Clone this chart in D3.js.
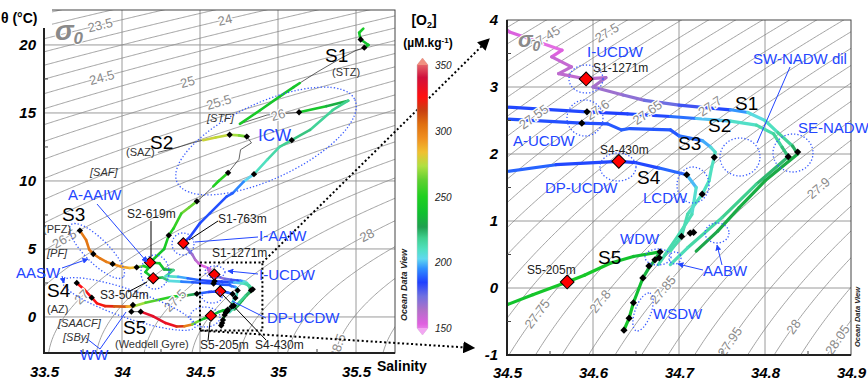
<!DOCTYPE html>
<html>
<head>
<meta charset="utf-8">
<script src="https://cdn.jsdelivr.net/npm/d3@7"></script>
<style>
  body { margin: 0; background: #fff; }
  svg { font-family: "Liberation Sans", Arial, sans-serif; }
</style>
</head>
<body>
<svg id="chart" width="868" height="387"></svg>
<script>
// ---- data : [salinity, theta, O2] along each station profile (O2 null = no oxygen data)
var st1 = [
  [35.547,21.2,245],[35.52,20.9,245],[35.53,20.4,240],[35.58,20.0,240],[35.553,19.8,240],
  [35.50,19.6,null],[35.40,19.0,240],[35.25,18.0,null],[35.14,17.2,240],[35.10,16.9,245],
  [35.01,16.2,240],[34.885,15.2,245],[34.756,14.2,245],[34.93,14.85,null],[35.135,15.05,245],
  [35.31,15.5,240],[35.45,15.9,225],[35.35,15.2,215],[35.205,13.75,222],[35.088,13.0,222],
  [35.01,12.5,218],[34.93,11.55,214],[34.846,10.5,210],[34.78,9.95,200],[34.71,9.1,194],
  [34.67,8.85,190],[34.564,7.64,190],[34.5,6.9,190],[34.436,5.9,188],[34.393,5.42,185],
  [34.42,5.0,180],[34.45,4.6,172],[34.47,4.2,168],[34.49,3.95,162],[34.503,3.82,160],
  [34.53,3.70,158],[34.564,3.55,155],[34.552,3.45,162],[34.575,3.30,165],[34.56,3.20,165],
  [34.592,3.12,165],[34.615,3.14,168],[34.60,3.00,170],[34.635,2.88,172],[34.66,2.80,175],
  [34.70,2.73,182],[34.74,2.68,186],[34.76,2.66,192],[34.78,2.62,205],[34.80,2.50,210],
  [34.815,2.32,214],[34.832,2.12,222],[34.838,2.00,230],[34.80,1.60,232],[34.77,1.20,232],
  [34.745,0.85,230],[34.72,0.55,230]
];
var st2 = [
  [34.23,12.1,276],[34.30,12.3,null],[34.38,12.55,276],[34.45,12.8,null],[34.52,13.0,276],
  [34.60,13.2,276],[34.69,13.4,273],[34.75,13.35,268],[34.80,13.26,262],[34.83,12.8,null],
  [34.76,12.3,null],[34.75,11.6,null],[34.68,10.6,255],[34.62,10.0,250],[34.585,9.6,250],
  [34.53,9.0,null],[34.48,8.5,255],[34.43,8.05,270],[34.38,7.6,258],[34.33,6.5,250],
  [34.30,6.0,248],[34.27,5.0,245],[34.18,4.0,240],[34.24,3.95,245],[34.27,3.5,238],
  [34.33,3.45,225],[34.28,3.0,215],[34.36,2.95,205],[34.42,2.85,196],[34.50,2.70,190],
  [34.593,2.63,188],[34.64,2.60,188],[34.69,2.56,190],[34.72,2.53,198],[34.76,2.49,208],
  [34.79,2.43,214],[34.81,2.30,216],[34.82,2.10,220],[34.827,1.96,226],[34.79,1.55,222],
  [34.75,1.05,218],[34.71,0.6,215],[34.69,0.35,212]
];
var st3 = [
  [33.73,6.35,298],[33.77,5.66,300],[33.79,4.95,300],[33.816,4.63,300],[33.86,4.3,300],
  [33.90,4.05,298],[33.94,3.9,296],[34.0,3.68,290],[34.05,3.6,286],[34.094,3.65,280],
  [34.14,3.75,250],[34.17,3.6,245],[34.15,3.3,240],[34.2,2.85,240],[34.26,2.9,230],
  [34.30,2.65,215],[34.38,2.6,200],[34.45,2.55,192],[34.5,2.52,190],[34.587,2.46,190],
  [34.617,2.45,190],[34.633,2.36,192],[34.643,2.38,192],[34.69,2.36,190],[34.70,2.27,192],
  [34.727,2.20,196],[34.737,2.1,205],[34.742,2.03,212],[34.741,1.95,212],[34.738,1.80,212],
  [34.735,1.60,212],[34.727,1.40,212],[34.71,1.1,214],[34.703,0.77,215],[34.69,0.55,215]
];
var st4 = [
  [33.71,2.5,320],[33.76,2.0,325],[33.806,1.42,325],[33.84,1.0,322],[33.89,0.8,320],
  [33.95,0.78,315],[34.03,0.76,300],[34.08,0.8,275],[34.15,1.05,265],[34.25,1.3,255],
  [34.33,1.5,250],[34.42,1.6,240],[34.48,1.7,215],[34.5,1.74,195],[34.557,1.84,190],
  [34.63,1.89,188],[34.65,1.87,188],[34.677,1.79,190],[34.709,1.69,196],[34.72,1.5,208],
  [34.715,1.1,212],[34.70,0.8,215],[34.684,0.5,215],[34.676,0.35,215]
];
var st5 = [
  [34.07,0.88,null],[34.06,0.39,null],[34.12,0.39,330],[34.2,0.05,330],[34.28,-0.45,330],
  [34.35,-0.7,325],[34.40,-0.68,305],[34.45,-0.55,290],[34.5,-0.25,240],[34.53,-0.1,240],
  [34.57,0.09,245],[34.59,0.19,245],[34.62,0.37,242],[34.647,0.47,240],[34.678,0.54,235],
  [34.672,0.42,230],[34.665,0.3,232],[34.658,0.15,235],[34.647,-0.22,240],[34.642,-0.45,242],
  [34.636,-0.63,245]
];
var stations = [st1, st2, st3, st4, st5];

// sampled depths (black diamonds) and labelled depths (red diamonds)
var samplePts = [
  [35.53,20.4],[35.553,19.8],[35.135,15.05],[35.088,13.0],[34.846,10.5],
  [34.69,13.4],[34.80,13.26],[34.68,10.6],[34.48,8.5],[34.30,6.0],
  [33.73,6.35],[33.816,4.63],[33.94,3.9],[34.094,3.65],
  [33.71,2.5],[33.806,1.42],[34.48,1.7],
  [34.07,0.88],[34.06,0.39],[34.12,0.39],
  [34.593,2.63],[34.587,2.46],[34.709,1.69],[34.741,1.95],[34.827,1.96],[34.838,2.03],
  [34.727,1.40],[34.703,0.77],[34.677,0.45],[34.713,0.82],[34.717,0.83],
  [34.678,0.54],[34.672,0.42],[34.665,0.33],[34.658,0.15],[34.647,-0.22],[34.642,-0.45],[34.636,-0.63]
];
var keyPts = [[34.393,5.42],[34.592,3.12],[34.18,4.0],[34.2,2.85],[34.63,1.89],[34.57,0.09]];

// axes ticks
var sTicksL = [33.5, 34, 34.5, 35, 35.5];
var tTicksL = [0, 5, 10, 15, 20];
var sTicksR = [34.5, 34.6, 34.7, 34.8, 34.9];
var tTicksR = [-1, 0, 1, 2, 3, 4];
var o2Ticks = [150, 200, 250, 300, 350];

// O2 palette (Ocean Data View like)
var o2Stops  = [150,158,168,178,188,198,205,212,220,228,238,250,262,272,282,292,302,312,322,336,350];
var o2Colors = ["#f2a6f2","#e060e0","#b070c8","#7070e0","#2040ff","#3090ff","#60d8f0","#50e0c0",
                "#40d090","#20a050","#10c030","#20d020","#60d030","#b0e040","#f0c030","#f09020",
                "#e07010","#c84010","#ff1010","#d0103c","#f09080"];

// isopycnal label positions (salinity where label sits)
var isoLabelsL = [[23.5,33.86],[24,34.66],[24.5,33.87],[25,34.42],[25.5,34.62],[26,35.0],
                  [26.5,33.63],[27,33.74],[27.5,34.34],[28,35.57],[28.5,35.38]];
var isoLabelsR = [[27.45,34.544],[27.5,34.616],[27.55,34.531],[27.6,34.605],[27.65,34.663],
                  [27.7,34.736],[27.75,34.535],[27.8,34.608],[27.85,34.681],[27.9,34.862],
                  [27.95,34.759],[28,34.833],[28.05,34.884]];

// ---- helpers
function sigma0(S, T) {
  var rw = 999.842594 + 6.793952e-2*T - 9.095290e-3*T*T + 1.001685e-4*T*T*T
         - 1.120083e-6*T*T*T*T + 6.536332e-9*T*T*T*T*T;
  var A = 0.824493 - 4.0899e-3*T + 7.6438e-5*T*T - 8.2467e-7*T*T*T + 5.3875e-9*T*T*T*T;
  var B = -5.72466e-3 + 1.0227e-4*T - 1.6546e-6*T*T;
  return rw + A*S + B*Math.pow(S, 1.5) + 4.8314e-4*S*S - 1000;
}
function findT(S, lev) {
  var lo = -3, hi = 32;
  if (sigma0(S, lo) < lev || sigma0(S, hi) > lev) return null;
  for (var k = 0; k < 40; k++) {
    var m = (lo + hi) / 2;
    if (sigma0(S, m) > lev) lo = m; else hi = m;
  }
  return (lo + hi) / 2;
}
var o2Color = d3.scaleLinear().domain(o2Stops).range(o2Colors).clamp(true);

var svg = d3.select("#chart");
var defs = svg.append("defs");
defs.append("clipPath").attr("id", "clipL").append("rect").attr("x", 44).attr("y", 10).attr("width", 351).attr("height", 343);
defs.append("clipPath").attr("id", "clipR").append("rect").attr("x", 507).attr("y", 20).attr("width", 344).attr("height", 335);
[["arrBlue", "#2346ff"], ["arrBlack", "#000"]].forEach(function (a) {
  defs.append("marker").attr("id", a[0]).attr("viewBox", "0 0 10 10").attr("refX", 9).attr("refY", 5)
    .attr("markerWidth", 6).attr("markerHeight", 6).attr("orient", "auto-start-reverse")
    .append("path").attr("d", "M0,0 L10,5 L0,10 z").attr("fill", a[1]);
});

var xL = d3.scaleLinear().domain([33.5, 35.75]).range([44, 395]);
var yL = d3.scaleLinear().domain([-2.65, 22.57]).range([353, 10]);
var xR = d3.scaleLinear().domain([34.5, 34.9]).range([507, 851]);
var yR = d3.scaleLinear().domain([-1, 4]).range([355, 20]);

var BLUE = "#2346ff";

function drawPanel(p) {
  var x = p.x, y = p.y;
  var g = svg.append("g");
  var sx = x.domain(), ty = y.domain();
  // grid
  g.selectAll(".vg").data(p.vgrid).enter().append("line")
    .attr("x1", function (d) { return x(d); }).attr("x2", function (d) { return x(d); })
    .attr("y1", y(ty[0])).attr("y2", y(ty[1])).attr("stroke", "#9a9a9a").attr("stroke-width", 1);
  g.selectAll(".hg").data(p.hgrid).enter().append("line")
    .attr("y1", function (d) { return y(d); }).attr("y2", function (d) { return y(d); })
    .attr("x1", x(sx[0])).attr("x2", x(sx[1])).attr("stroke", "#9a9a9a").attr("stroke-width", 1);

  var inner = g.append("g").attr("clip-path", "url(#" + p.clip + ")");
  // isopycnals
  var line = d3.line().defined(function (d) { return d[1] !== null; })
    .x(function (d) { return x(d[0]); }).y(function (d) { return y(d[1]); });
  p.levels.forEach(function (lev) {
    var pts = d3.range(0, 301).map(function (i) {
      var S = sx[0] - 0.05 + (sx[1] - sx[0] + 0.1) * i / 300;
      return [S, findT(S, lev)];
    });
    inner.append("path").attr("d", line(pts)).attr("fill", "none")
      .attr("stroke", "#8a8a8a").attr("stroke-width", 0.8);
  });
  // profiles
  stations.forEach(function (st) {
    inner.append("path").attr("d", d3.line().x(function (d) { return x(d[0]); }).y(function (d) { return y(d[1]); })(st))
      .attr("fill", "none").attr("stroke", "#222").attr("stroke-width", 0.7);
    for (var i = 0; i < st.length - 1; i++) {
      var a = st[i], b = st[i + 1];
      if (a[2] === null || b[2] === null) continue;
      inner.append("line").attr("x1", x(a[0])).attr("y1", y(a[1])).attr("x2", x(b[0])).attr("y2", y(b[1]))
        .attr("stroke", o2Color((a[2] + b[2]) / 2)).attr("stroke-width", p.lw).attr("stroke-linecap", "round");
    }
  });
  // isopycnal labels
  p.isoLabels.forEach(function (l) {
    var lev = l[0], S = l[1], dS = (sx[1] - sx[0]) * 0.004;
    var T = findT(S, lev), T1 = findT(S - dS, lev), T2 = findT(S + dS, lev);
    if (T === null || T1 === null || T2 === null) return;
    var ang = Math.atan2(y(T2) - y(T1), x(S + dS) - x(S - dS)) * 180 / Math.PI;
    inner.append("text").attr("transform", "translate(" + x(S) + "," + y(T) + ") rotate(" + ang + ")")
      .attr("text-anchor", "middle").attr("dy", "0.36em")
      .attr("font-size", p.isoSize).attr("fill", "#8a8a8a")
      .attr("stroke", "#fff").attr("stroke-width", 2.5).attr("paint-order", "stroke")
      .text(String(+lev.toFixed(2)));
  });
  inner.selectAll(".smp").data(samplePts).enter().append("path")
    .attr("d", d3.symbol(d3.symbolSquare, p.small))
    .attr("transform", function (d) { return "translate(" + x(d[0]) + "," + y(d[1]) + ") rotate(45)"; })
    .attr("fill", "#000");
  inner.selectAll(".key").data(keyPts).enter().append("path")
    .attr("d", d3.symbol(d3.symbolSquare, p.big))
    .attr("transform", function (d) { return "translate(" + x(d[0]) + "," + y(d[1]) + ") rotate(45)"; })
    .attr("fill", "#ff0000").attr("stroke", "#000").attr("stroke-width", 1);

  // frame
  g.append("rect").attr("x", x(sx[0])).attr("y", y(ty[1])).attr("width", x(sx[1]) - x(sx[0]))
    .attr("height", y(ty[0]) - y(ty[1])).attr("fill", "none").attr("stroke", "#444").attr("stroke-width", 1);
  g.append("path").attr("d", "M" + x(sx[0]) + "," + y(ty[1]) + "V" + y(ty[0]) + "H" + x(sx[1]))
    .attr("fill", "none").attr("stroke", "#222").attr("stroke-width", 2);

  // axes
  var ax = g.append("g").attr("transform", "translate(0," + y(ty[0]) + ")")
    .call(d3.axisBottom(x).tickValues(p.sTicks).tickSize(0).tickPadding(p.xPad).tickFormat(function (d) { return String(d); }));
  var ay = g.append("g").attr("transform", "translate(" + x(sx[0]) + ",0)")
    .call(d3.axisLeft(y).tickValues(p.tTicks).tickSize(0).tickPadding(p.yPad).tickFormat(function (d) { return String(d); }));
  [ax, ay].forEach(function (a) {
    a.select(".domain").remove();
    a.selectAll("text").attr("font-family", "Liberation Sans, Arial, sans-serif").attr("font-size", 15)
      .attr("font-weight", "bold").attr("font-style", "italic").attr("fill", "#000");
  });
  // minor ticks
  g.selectAll(".mx").data(p.minorS).enter().append("line")
    .attr("x1", function (d) { return x(d); }).attr("x2", function (d) { return x(d); })
    .attr("y1", y(ty[0])).attr("y2", y(ty[0]) - 4).attr("stroke", "#444");
  g.selectAll(".my").data(p.minorT).enter().append("line")
    .attr("y1", function (d) { return y(d); }).attr("y2", function (d) { return y(d); })
    .attr("x1", x(sx[0])).attr("x2", x(sx[0]) + 4).attr("stroke", "#444");
  return g;
}

drawPanel({ x: xL, y: yL, clip: "clipL", vgrid: [34, 34.5, 35, 35.5], hgrid: [0, 5, 10, 15, 20],
  levels: d3.range(22.5, 29.01, 0.25), isoLabels: isoLabelsL, isoSize: 13, lw: 2.6, small: 20, big: 62,
  sTicks: sTicksL, tTicks: tTicksL, xPad: 13, yPad: 8,
  minorS: [33.75, 34.25, 34.75, 35.25], minorT: [2.5, 7.5, 12.5, 17.5] });
drawPanel({ x: xR, y: yR, clip: "clipR", vgrid: [34.6, 34.7, 34.8], hgrid: [0, 1, 2, 3],
  levels: d3.range(27.4, 28.11, 0.025), isoLabels: isoLabelsR, isoSize: 13, lw: 3.2, small: 26, big: 95,
  sTicks: sTicksR, tTicks: tTicksR, xPad: 12, yPad: 9,
  minorS: [34.55, 34.65, 34.75, 34.85], minorT: [-0.5, 0.5, 1.5, 2.5, 3.5] });

// ---- zoom box + connectors on the left panel
svg.append("rect").attr("x", xL(34.5)).attr("y", yL(4)).attr("width", xL(34.9) - xL(34.5))
  .attr("height", yL(-1) - yL(4)).attr("fill", "none").attr("stroke", "#000")
  .attr("stroke-width", 2).attr("stroke-dasharray", "2,2.5");
svg.append("line").attr("x1", xL(34.9)).attr("y1", yL(4)).attr("x2", 489).attr("y2", 39)
  .attr("stroke", "#000").attr("stroke-width", 2).attr("stroke-dasharray", "2,2.5").attr("marker-end", "url(#arrBlack)");
svg.append("line").attr("x1", xL(34.5)).attr("y1", yL(-1)).attr("x2", 474).attr("y2", 348)
  .attr("stroke", "#000").attr("stroke-width", 2).attr("stroke-dasharray", "2,2.5").attr("marker-end", "url(#arrBlack)");

// ---- water-mass ellipses
var ellipses = [
  [266,141,98,38,-25],[183,244,11,11,0],[155,272,14,17,0],[97,251,37,12,45],[129,304,70,14,19],
  [205,317,15,10,0],[215,272,10,6,0],[212,297,10,6,0],
  [586,79,17,14,0],[585,118,18,18,0],[618,167,18,14,0],[693,185,16,18,0],[740,157,20,19,0],
  [793,153,20,19,0],[658,257,13,8,0],[717,233,12,10,0],[675,258,6,6,0],[643,312,20,8,-70]
];
svg.selectAll(".ell").data(ellipses).enter().append("ellipse")
  .attr("cx", 0).attr("cy", 0).attr("rx", function (d) { return d[2]; }).attr("ry", function (d) { return d[3]; })
  .attr("transform", function (d) { return "translate(" + d[0] + "," + d[1] + ") rotate(" + d[4] + ")"; })
  .attr("fill", "none").attr("stroke", "#3a5cff").attr("stroke-width", 1.3).attr("stroke-dasharray", "1.3,2");

// ---- leader lines
var leaders = [
  [97,204,147,262,BLUE,1],[258,237,195,242,BLUE,0],[258,274,228,271,BLUE,1],[266,318,232,301,BLUE,0],
  [62,268,88,259,BLUE,1],[62,276,64,283,BLUE,1],[100,349,86,338,BLUE,0],[100,349,126,312,BLUE,0],
  [790,67,757,143,BLUE,0],[703,270,678,264,BLUE,1],[722,265,717,245,BLUE,1],
  [151,221,151,257,"#000",0],[128,292,147,282,"#000",0],[218,221,189,240,"#000",0],
  [208,341,210,322,"#000",0],[266,340,222,294,"#000",0]
];
svg.selectAll(".ld").data(leaders).enter().append("line")
  .attr("x1", function (d) { return d[0]; }).attr("y1", function (d) { return d[1]; })
  .attr("x2", function (d) { return d[2]; }).attr("y2", function (d) { return d[3]; })
  .attr("stroke", function (d) { return d[4]; }).attr("stroke-width", 1)
  .attr("marker-end", function (d) { return d[5] ? (d[4] === BLUE ? "url(#arrBlue)" : "url(#arrBlack)") : null; });

// ---- texts: [text, x, y, size, colour, style]
var texts = [
  ["ICW",258,141,17,BLUE,""],["A-AAIW",68,200,15,BLUE,""],["I-AAIW",259,241,15,BLUE,""],
  ["I-UCDW",259,280,15,BLUE,""],["DP-UCDW",267,323,15,BLUE,""],["AASW",16,278,15,BLUE,""],
  ["WW",80,360,15,BLUE,""],
  ["I-UCDW",587,57,15,BLUE,""],["A-UCDW",513,146,15,BLUE,""],["DP-UCDW",545,193,15,BLUE,""],
  ["LCDW",643,203,15,BLUE,""],["SW-NADW dil",753,64,15,BLUE,""],["SE-NADW",798,133,15,BLUE,""],
  ["WDW",620,244,15,BLUE,""],["AABW",703,276,15,BLUE,""],["WSDW",653,319,15,BLUE,""],
  ["S1",325,62,19,"#000",""],["(STZ)",332,76,11,"#333",""],["S2",150,149,19,"#000",""],
  ["(SAZ)",126,156,11,"#333",""],["[STF]",207,122,11,"#333","italic"],["[SAF]",90,176,11,"#333","italic"],
  ["S3",62,221,19,"#000",""],["(PFZ)",43,233,11,"#333",""],["[PF]",47,257,11,"#333","italic"],
  ["S4",47,297,19,"#000",""],["(AZ)",47,313,11,"#333",""],["[SAACF]",58,327,11,"#333","italic"],
  ["[SBy]",63,341,11,"#333","italic"],["S5",123,334,19,"#000",""],["(Weddell Gyre)",115,348,11,"#333",""],
  ["S2-619m",127,218,12,"#222",""],["S3-504m",100,299,12,"#222",""],["S1-763m",218,223,12,"#222",""],
  ["S1-1271m",212,257,12,"#222",""],["S5-205m",200,349,12,"#222",""],["S4-430m",255,349,12,"#222",""],
  ["S1-1271m",593,72,12,"#222",""],["S4-430m",600,154,12,"#222",""],["S5-205m",527,274,12,"#222",""],
  ["S1",735,110,19,"#000",""],["S2",708,132,19,"#000",""],["S3",678,150,19,"#000",""],
  ["S4",637,184,19,"#000",""],["S5",598,264,19,"#000",""]
];
svg.selectAll(".tx").data(texts).enter().append("text")
  .attr("x", function (d) { return d[1]; }).attr("y", function (d) { return d[2]; })
  .attr("font-size", function (d) { return d[3]; }).attr("fill", function (d) { return d[4]; })
  .attr("font-style", function (d) { return d[5] || "normal"; })
  .text(function (d) { return d[0]; });

// sigma-0 symbols
[[55,40,28,17],[518,47,22,14]].forEach(function (s) {
  var t = svg.append("text").attr("x", s[0]).attr("y", s[1]).attr("fill", "#8a8a8a")
    .attr("font-weight", "bold").attr("font-style", "italic").attr("font-size", s[2])
    .attr("stroke", "#fff").attr("stroke-width", 2).attr("paint-order", "stroke");
  t.append("tspan").text("σ");
  t.append("tspan").attr("font-size", s[3]).attr("dy", 4).text("0");
});

// axis titles
svg.append("rect").attr("x", 0).attr("y", 0).attr("width", 52).attr("height", 28).attr("fill", "#fff");
svg.append("text").attr("x", 1).attr("y", 23).attr("font-size", 14).attr("font-weight", "bold").text("θ (°C)");
svg.append("text").attr("x", 377).attr("y", 371).attr("font-size", 14).attr("font-weight", "bold").text("Salinity");

// Ocean Data View marks
[[407,285,9],[860,317,7.5]].forEach(function (o) {
  svg.append("text").attr("transform", "translate(" + o[0] + "," + o[1] + ") rotate(-90)")
    .attr("text-anchor", "middle").attr("font-size", o[2]).attr("font-weight", "bold")
    .attr("font-style", "italic").attr("fill", "#222").text("Ocean Data View");
});

// ---- colour bar
var yC = d3.scaleLinear().domain([150, 350]).range([328, 65]);
var grad = defs.append("linearGradient").attr("id", "o2grad").attr("x1", 0).attr("y1", 1).attr("x2", 0).attr("y2", 0);
o2Stops.forEach(function (v, i) {
  grad.append("stop").attr("offset", (v - 150) / 200).attr("stop-color", o2Colors[i]);
});
svg.append("path")
  .attr("d", "M417," + yC(150) + "V" + yC(350) + "L422.5," + (yC(350) - 7) + "L428," + yC(350) + "V" + yC(150) + "L422.5," + (yC(150) + 7) + "Z")
  .attr("fill", "url(#o2grad)").attr("stroke", "#ccc").attr("stroke-width", 0.5);
svg.append("path").attr("d", "M417," + yC(350) + "L422.5," + (yC(350) - 7) + "L428," + yC(350) + "Z").attr("fill", o2Color(350));
svg.append("path").attr("d", "M417," + yC(150) + "L422.5," + (yC(150) + 7) + "L428," + yC(150) + "Z").attr("fill", o2Color(150));
svg.selectAll(".ct").data(o2Ticks).enter().append("text")
  .attr("x", 435).attr("y", function (d) { return yC(d) + 4; })
  .attr("font-size", 10).attr("font-style", "italic").attr("fill", "#222").text(function (d) { return d; });
var ttl = svg.append("text").attr("x", 424).attr("y", 25).attr("text-anchor", "middle")
  .attr("font-size", 14).attr("font-weight", "bold");
ttl.append("tspan").text("[O");
ttl.append("tspan").attr("font-size", 9).attr("dy", 3).text("2");
ttl.append("tspan").attr("dy", -3).text("]");
var unit = svg.append("text").attr("x", 428).attr("y", 47).attr("text-anchor", "middle")
  .attr("font-size", 12).attr("font-weight", "bold");
unit.append("tspan").text("(µM.kg");
unit.append("tspan").attr("font-size", 8).attr("dy", -4).text("-1");
unit.append("tspan").attr("dy", 4).text(")");
</script>
</body>
</html>
